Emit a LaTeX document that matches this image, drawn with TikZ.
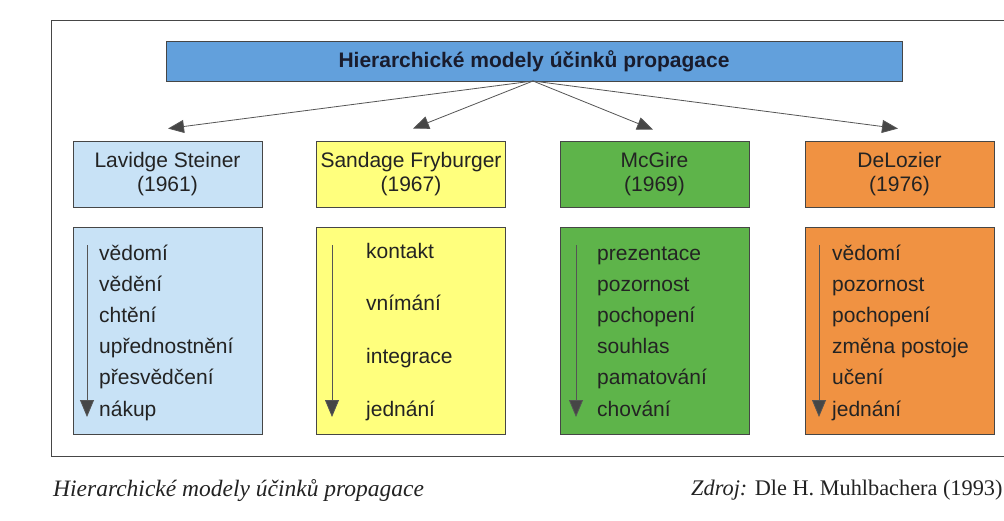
\documentclass[tikz,border=0pt]{standalone}
\usepackage{fontspec}
\setmainfont{Liberation Serif}
\setsansfont{Liberation Sans}
\usetikzlibrary{arrows.meta}
\definecolor{titleblue}{RGB}{98,160,220}
\definecolor{lblue}{RGB}{200,226,246}
\definecolor{lyellow}{RGB}{255,255,125}
\definecolor{lgreen}{RGB}{94,180,74}
\definecolor{lorange}{RGB}{240,146,66}
\definecolor{bordergray}{RGB}{70,70,70}
\definecolor{txt}{RGB}{35,35,35}
\definecolor{conncol}{RGB}{85,85,85}
\definecolor{tipcol}{RGB}{70,70,70}
\begin{document}
\begin{tikzpicture}[x=1pt,y=-1pt,
  box/.style={draw=bordergray, line width=0.9pt, minimum width=189pt, inner sep=0pt},
  hbox/.style={box, minimum height=66pt, align=center, text=txt,
    font=\sffamily\fontsize{21}{24}\selectfont},
  lbox/.style={box, minimum height=207pt},
  item/.style={anchor=base west, inner sep=0pt, text=txt,
    font=\sffamily\fontsize{21}{24}\selectfont},
  conn/.style={draw=conncol, line width=0.8pt,
    -{Triangle[length=16pt,width=13pt,fill=tipcol]}},
  flow/.style={draw=conncol, line width=0.8pt,
    -{Triangle[length=17pt,width=14pt,fill=tipcol]}},
  frame/.style={draw=bordergray, line width=1pt},
  caption/.style={anchor=base west, inner sep=0pt, text=txt}
]
\useasboundingbox (0,0) rectangle (1004,520);
\fill[white] (0,0) rectangle (1004,520);

% frame
\draw[frame] (1004,20) -- (51,20) -- (51,456) -- (1004,456);

% title
\node[draw=bordergray, line width=0.9pt, fill=titleblue, minimum width=736pt,
  minimum height=40pt, inner sep=0pt, text={rgb,255:red,25;green,28;blue,45},
  font=\sffamily\bfseries\fontsize{21}{24}\selectfont]
  (T) at (534,61.5) {Hierarchické modely účinků propagace};

% header boxes
\node[hbox, fill=lblue]   (H1) at (167.5,174) {Lavidge Steiner\\(1961)};
\node[hbox, fill=lyellow] (H2) at (411,174)   {Sandage Fryburger\\(1967)};
\node[hbox, fill=lgreen]  (H3) at (654.5,174) {McGire\\(1969)};
\node[hbox, fill=lorange] (H4) at (899.5,174) {DeLozier\\(1976)};

% connectors from title
\coordinate (T0) at (533,81);
\draw[conn] (T0) -- ([xshift=0.5pt,yshift=12pt]H1.north);
\draw[conn] (T0) -- ([xshift=2pt,yshift=12pt]H2.north);
\draw[conn] (T0) -- ([xshift=-1.5pt,yshift=11pt]H3.north);
\draw[conn] (T0) -- ([xshift=-1.5pt,yshift=12pt]H4.north);

% list boxes
\node[lbox, fill=lblue]   (B1) at (167.5,330.5) {};
\node[lbox, fill=lyellow] (B2) at (411,330.5)   {};
\node[lbox, fill=lgreen]  (B3) at (654.5,330.5) {};
\node[lbox, fill=lorange] (B4) at (899.5,330.5) {};

% Lavidge Steiner
\foreach \t [count=\i] in {vědomí, vědění, chtění, upřednostnění, přesvědčení, nákup}
  \node[item] (LS\i) at (99,{260+31.2*(\i-1)}) {\t};
\coordinate (LSa) at (87,245); \coordinate (LSb) at (87,417);
\draw[flow] (LSa) -- (LSb);

% Sandage Fryburger
\foreach \t [count=\i] in {kontakt, vnímání, integrace, jednání}
  \node[item] (SF\i) at (366,{258+52.67*(\i-1)}) {\t};
\coordinate (SFa) at (332,245); \coordinate (SFb) at (332,417);
\draw[flow] (SFa) -- (SFb);

% McGire
\foreach \t [count=\i] in {prezentace, pozornost, pochopení, souhlas, pamatování, chování}
  \node[item] (MG\i) at (597,{260+31.2*(\i-1)}) {\t};
\coordinate (MGa) at (576,245); \coordinate (MGb) at (576,417);
\draw[flow] (MGa) -- (MGb);

% DeLozier
\foreach \t [count=\i] in {vědomí, pozornost, pochopení, změna postoje, učení, jednání}
  \node[item] (DL\i) at (832,{260+31.2*(\i-1)}) {\t};
\coordinate (DLa) at (819,245); \coordinate (DLb) at (819,417);
\draw[flow] (DLa) -- (DLb);

% captions
\node[caption, font=\itshape\fontsize{23.5}{28}\selectfont] (cap) at (53,496)
  {Hierarchické modely účinků propagace};
\node[caption, font=\fontsize{22.3}{28}\selectfont] (src) at (691,495)
  {{\itshape Zdroj:} Dle H. Muhlbachera (1993)};
\end{tikzpicture}
\end{document}
